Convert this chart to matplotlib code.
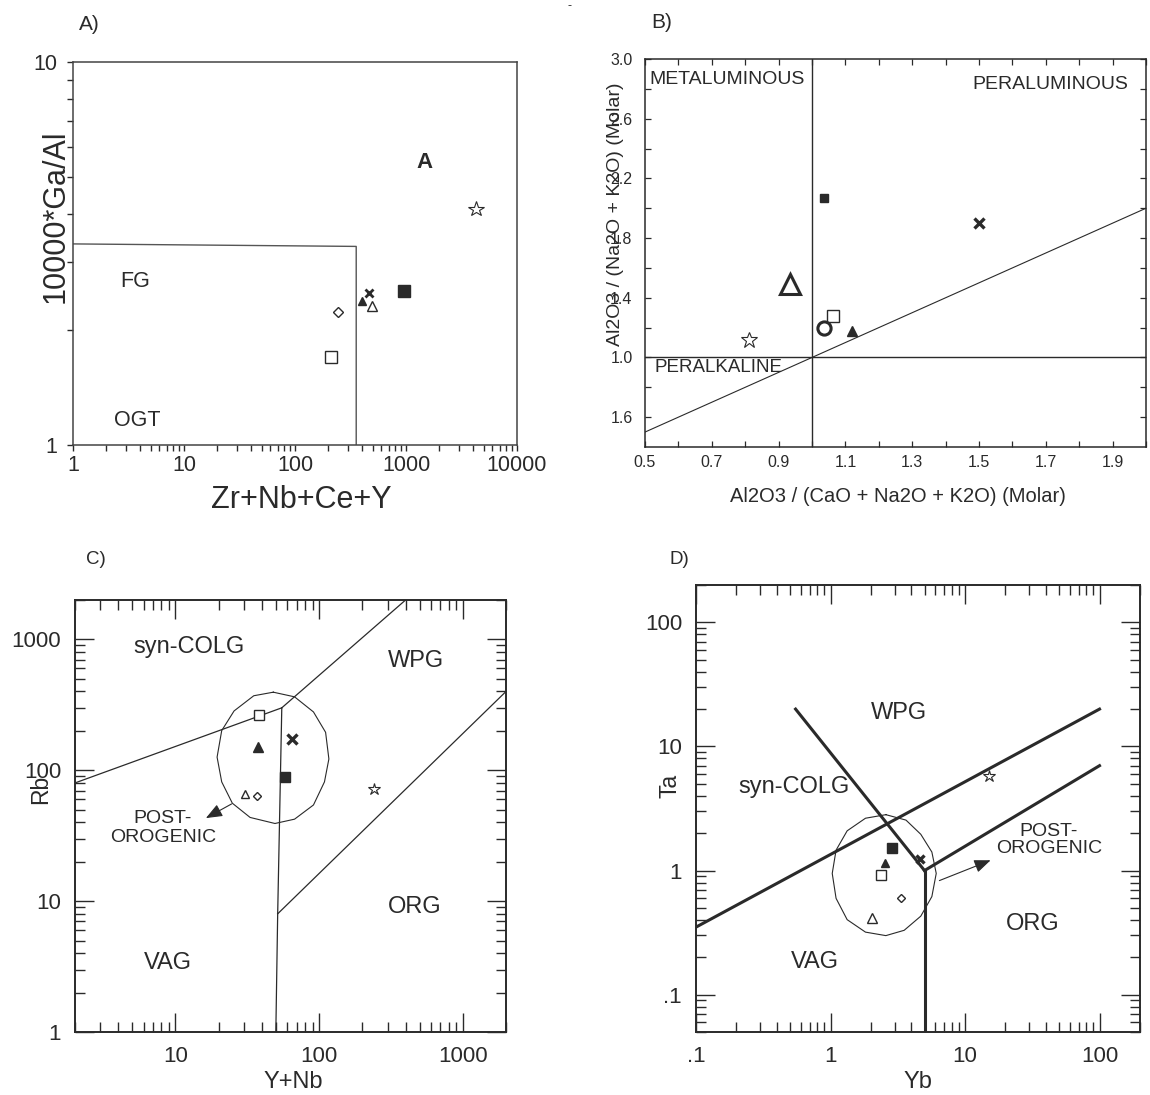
import matplotlib
matplotlib.use("Agg")
import matplotlib.pyplot as plt
from matplotlib import ticker

plt.rcParams['font.family'] = ['Liberation Sans', 'DejaVu Sans']
INK = '#2a2a2a'
W, H = 1150, 1095

# ---- sample order: open sq, diamond, filled tri, open tri, cross, filled sq, star
A_x = [212, 242, 403, 496, 460, 959, 4300]          # Zr+Nb+Ce+Y
A_y = [1.70, 2.23, 2.37, 2.31, 2.49, 2.52, 4.12]    # 10000*Ga/Al
A_fg_x = [1, 356, 356]
A_fg_y = [3.35, 3.30, 1]

# B: open sq, filled tri, open tri, cross, filled sq, star, circle
B_x = [1.064, 1.12, 0.933, 1.50, 1.037, 0.811, 1.035]   # A/CNK
B_y = [1.28, 1.18, 1.49, 1.90, 2.07, 1.12, 1.20]        # A/NK
B_ticks_y = [0.6, 1.0, 1.4, 1.8, 2.2, 2.6, 3.0]
B_ticklabels_y = ['1.6', '1.0', '1.4', '1.8', '2.2', '2.6', '3.0']
B_ticks_x = [0.5, 0.7, 0.9, 1.1, 1.3, 1.5, 1.7, 1.9]

C_x = [38.2, 37.1, 37.6, 30.6, 64.4, 57.8, 243]      # Y+Nb
C_y = [263, 63.4, 150, 66.2, 172, 89.4, 71.9]        # Rb
C_lines = [
    ([2, 55], [80, 300]),
    ([55, 400], [300, 2000]),
    ([55, 51.5, 50], [300, 8, 1]),
    ([51.5, 2000], [8, 400]),
]
C_field_x = [48.0, 35.1, 25.6, 21.0, 19.5, 21.0, 24.9, 33.1, 49.3, 67.5,
             91.4, 109, 117, 111, 91.4, 67.5, 48.0]
C_field_y = [395, 371, 284, 201, 126, 81.5, 56.0, 43.6, 39.2, 42.3,
             54.3, 81.5, 122, 195, 279, 364, 395]

D_x = [2.37, 3.36, 2.54, 2.04, 4.63, 2.87, 15.0]     # Yb
D_y = [0.917, 0.604, 1.16, 0.415, 1.23, 1.52, 5.75]  # Ta
D_lines = [
    ([0.1, 100], [0.35, 20]),
    ([0.55, 5], [20, 1]),
    ([5, 5], [1, 0.05]),
    ([5, 100], [1, 7]),
]
D_field_x = [2.58, 3.64, 4.69, 5.67, 6.11, 5.67, 4.69, 3.53, 2.58, 1.82,
             1.33, 1.10, 1.03, 1.10, 1.33, 1.82, 2.58]
D_field_y = [2.82, 2.55, 1.96, 1.41, 0.948, 0.617, 0.429, 0.330, 0.299, 0.319,
             0.402, 0.597, 0.948, 1.46, 2.09, 2.64, 2.82]

fig = plt.figure(figsize=(W / 100, H / 100), dpi=100)


def box(l, t, r, b):
    return [l / W, 1 - b / H, (r - l) / W, (b - t) / H]


def ftext(x, y, s, **kw):
    fig.text(x / W, 1 - y / H, s, color=INK, ha='center', va='center', **kw)


def mk(kind, size, mew=1.0):
    d = {
        'osq': dict(marker='s', mfc='white'),
        'dia': dict(marker='D', mfc='white'),
        'ftri': dict(marker='^', mfc=INK),
        'otri': dict(marker='^', mfc='white'),
        'x': dict(marker='x'),
        'fsq': dict(marker='s', mfc=INK),
        'star': dict(marker='*', mfc='white'),
        'circ': dict(marker='o', mfc='white'),
    }[kind]
    d.update(mec=INK, ms=size, mew=mew, ls='none')
    return d


def plain(v, _):
    s = f'{v:g}'
    return s[1:] if s.startswith('0.') else s


# ---------------- A ----------------
axA = fig.add_axes(box(73, 62, 517, 445))
axA.set_xscale('log')
axA.set_yscale('log')
axA.set_xlim(1, 10000)
axA.set_ylim(1, 10)
axA.plot(A_fg_x, A_fg_y, color='#555555', lw=1)
A_style = [mk('osq', 8), mk('dia', 5.6), mk('ftri', 6.2), mk('otri', 6.5),
           mk('x', 6.3, 2.0), mk('fsq', 8.5), mk('star', 11.5, 0.8)]
for x, y, st in zip(A_x, A_y, A_style):
    axA.plot([x], [y], **st)
axA.text(1480, 5.48, 'A', fontsize=16, fontweight='bold', color=INK, ha='center', va='center')
axA.text(3.62, 2.67, 'FG', fontsize=15.5, color=INK, ha='center', va='center')
axA.text(3.8, 1.16, 'OGT', fontsize=15.5, color=INK, ha='center', va='center')
axA.tick_params(which='both', direction='out', top=False, right=False,
                colors=INK, labelsize=15.5, width=1)
axA.tick_params(which='major', length=4)
axA.tick_params(which='minor', length=4)
axA.tick_params(axis='y', pad=7)
axA.tick_params(axis='x', pad=3)
axA.xaxis.set_major_formatter(ticker.FuncFormatter(plain))
axA.yaxis.set_major_formatter(ticker.FuncFormatter(plain))
axA.xaxis.set_minor_formatter(ticker.NullFormatter())
axA.yaxis.set_minor_formatter(ticker.NullFormatter())
for sp in axA.spines.values():
    sp.set_color('#444444')
    sp.set_linewidth(1.1)
ftext(56, 216, '10000*Ga/Al', fontsize=22, rotation=90)
ftext(301, 500, 'Zr+Nb+Ce+Y', fontsize=22)
ftext(89, 24, 'A)', fontsize=15)
ftext(569, 6, '-', fontsize=9)

# ---------------- B ----------------
axB = fig.add_axes(box(645, 59, 1146, 447))
axB.set_xlim(0.5, 2.0)
axB.set_ylim(0.4, 3.0)
axB.axvline(1.0, color=INK, lw=1)
axB.axhline(1.0, color=INK, lw=1)
axB.plot([0.5, 2.0], [0.5, 2.0], color=INK, lw=0.8)
B_style = [mk('osq', 8.3), mk('ftri', 6.5), mk('otri', 14, 2.2), mk('x', 6.5, 2.4),
           mk('fsq', 5.2), mk('star', 12, 0.8), mk('circ', 9.5, 2.2)]
for x, y, st in zip(B_x, B_y, B_style):
    axB.plot([x], [y], **st)
axB.text(0.513, 2.86, 'METALUMINOUS', fontsize=14, color=INK, va='center')
axB.text(1.481, 2.83, 'PERALUMINOUS', fontsize=14, color=INK, va='center')
axB.text(0.529, 0.935, 'PERALKALINE', fontsize=13.5, color=INK, va='center')
axB.set_xticks(B_ticks_x)
axB.set_xticks([t + 0.1 for t in B_ticks_x], minor=True)
axB.xaxis.set_major_formatter(ticker.FormatStrFormatter('%.1f'))
axB.set_yticks(B_ticks_y)
axB.set_yticklabels(B_ticklabels_y)
axB.set_yticks([t + 0.2 for t in B_ticks_y[:-1]], minor=True)
axB.tick_params(which='both', direction='in', top=True, right=True,
                colors=INK, labelsize=11.5, length=4, width=0.9)
axB.tick_params(axis='y', pad=9)
axB.tick_params(axis='x', pad=6)
for sp in axB.spines.values():
    sp.set_color(INK)
    sp.set_linewidth(1.1)
ftext(615, 214, 'Al2O3 / (Na2O + K2O) (Molar)', fontsize=14, rotation=90)
ftext(898, 497, 'Al2O3 / (CaO + Na2O + K2O) (Molar)', fontsize=14.5)
ftext(662, 23, 'B)', fontsize=15)

# ---------------- C ----------------
axC = fig.add_axes(box(75, 600, 506, 1032))
axC.set_xscale('log')
axC.set_yscale('log')
axC.set_xlim(2, 2000)
axC.set_ylim(1, 2000)
for lx, ly in C_lines:
    axC.plot(lx, ly, color=INK, lw=0.9)
axC.plot(C_field_x, C_field_y, color=INK, lw=0.8)
C_style = [mk('osq', 7), mk('dia', 3.8), mk('ftri', 6.5), mk('otri', 6),
           mk('x', 6.5, 2.4), mk('fsq', 7), mk('star', 9, 0.8)]
for x, y, st in zip(C_x, C_y, C_style):
    axC.plot([x], [y], **st)
for s, x, y in [('syn-COLG', 12.4, 871), ('WPG', 474, 687), ('ORG', 460, 9.0), ('VAG', 8.93, 3.38)]:
    axC.text(x, y, s, fontsize=17, color=INK, ha='center', va='center')
axC.text(8.2, 36.2, 'POST-\nOROGENIC', fontsize=14, color=INK, ha='center', va='center')
axC.annotate('', xy=(16.3, 43.1), xytext=(24.6, 55.3),
             arrowprops=dict(arrowstyle='-|>,head_length=1.0,head_width=0.4',
                             color=INK, lw=0.8, shrinkA=0, shrinkB=0))
ftext(41, 789, 'Rb', fontsize=16.5, rotation=90)
ftext(293, 1082, 'Y+Nb', fontsize=17)
ftext(96, 560, 'C)', fontsize=13.5)

# ---------------- D ----------------
axD = fig.add_axes(box(696, 585, 1140, 1032))
axD.set_xscale('log')
axD.set_yscale('log')
axD.set_xlim(0.1, 200)
axD.set_ylim(0.05, 200)
for lx, ly in D_lines:
    axD.plot(lx, ly, color=INK, lw=2.2)
axD.plot(D_field_x, D_field_y, color=INK, lw=0.8)
D_style = [mk('osq', 6.6), mk('dia', 4.3), mk('ftri', 6.1), mk('otri', 7),
           mk('x', 6.2, 2.4), mk('fsq', 7.2), mk('star', 9, 0.8)]
for x, y, st in zip(D_x, D_y, D_style):
    axD.plot([x], [y], **st)
for s, x, y in [('WPG', 3.21, 18.5), ('syn-COLG', 0.532, 4.69), ('VAG', 0.767, 0.182), ('ORG', 31.7, 0.368)]:
    axD.text(x, y, s, fontsize=17, color=INK, ha='center', va='center')
axD.text(42, 1.76, 'POST-\nOROGENIC', fontsize=14, color=INK, ha='center', va='center',
         linespacing=1.05)
axD.annotate('', xy=(15.5, 1.21), xytext=(6.45, 0.83),
             arrowprops=dict(arrowstyle='-|>,head_length=1.0,head_width=0.4',
                             color=INK, lw=0.8, shrinkA=0, shrinkB=0))
ftext(670, 786, 'Ta', fontsize=16.5, rotation=90)
ftext(918, 1082, 'Yb', fontsize=17)
ftext(679, 560, 'D)', fontsize=13.5)

for ax in (axC, axD):
    ax.tick_params(which='both', direction='in', top=True, right=True,
                   colors=INK, labelsize=16, width=1)
    ax.tick_params(which='major', length=14, pad=10)
    ax.tick_params(which='minor', length=7.5)
    ax.xaxis.set_major_formatter(ticker.FuncFormatter(plain))
    ax.yaxis.set_major_formatter(ticker.FuncFormatter(plain))
    ax.xaxis.set_minor_formatter(ticker.NullFormatter())
    ax.yaxis.set_minor_formatter(ticker.NullFormatter())
    for sp in ax.spines.values():
        sp.set_color(INK)
        sp.set_linewidth(1.4)

fig.savefig('out.png', dpi=100)
